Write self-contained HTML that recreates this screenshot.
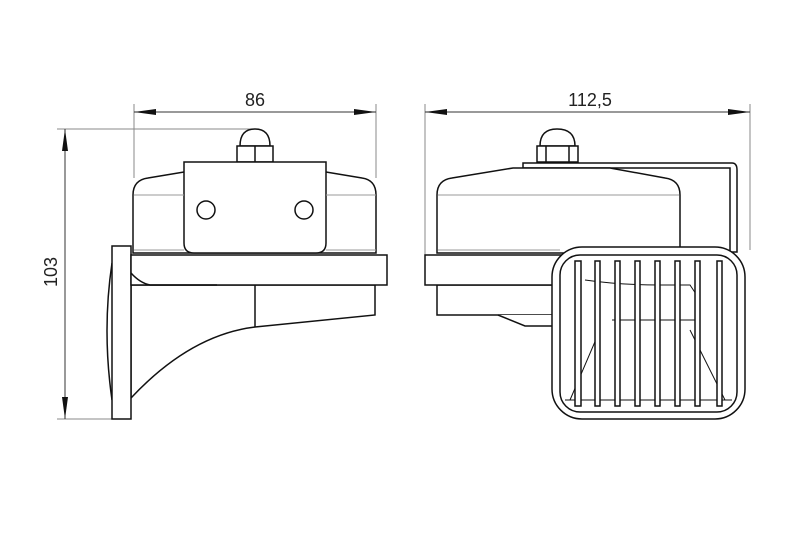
<!DOCTYPE html>
<html><head><style>body{margin:0;background:#fff}svg{display:block}</style></head><body>
<svg width="800" height="534" viewBox="0 0 800 534" xmlns="http://www.w3.org/2000/svg" font-family="Liberation Sans, sans-serif">
<g stroke="#888" stroke-width="1" fill="none">
<line x1="134" y1="104" x2="134" y2="178"/>
<line x1="376" y1="104" x2="376" y2="178"/>
<line x1="425" y1="104" x2="425" y2="255"/>
<line x1="750" y1="104" x2="750" y2="250"/>
<line x1="57" y1="129" x2="255" y2="129"/>
<line x1="57" y1="419" x2="112" y2="419"/>
</g>
<g stroke="#333" stroke-width="1" fill="none">
<line x1="134" y1="112" x2="376" y2="112"/>
<line x1="425" y1="112" x2="750" y2="112"/>
<line x1="65" y1="129" x2="65" y2="419"/>
</g>
<g fill="#111">
<polygon points="134,112 156,109 156,115"/>
<polygon points="376,112 354,109 354,115"/>
<polygon points="425,112 447,109 447,115"/>
<polygon points="750,112 728,109 728,115"/>
<polygon points="65,129 62,151 68,151"/>
<polygon points="65,419 62,397 68,397"/>
</g>
<text x="255" y="106" font-size="18" text-anchor="middle" fill="#222">86</text>
<text x="590" y="106" font-size="18" text-anchor="middle" fill="#222">112,5</text>
<text transform="translate(57,272) rotate(-90)" font-size="18" text-anchor="middle" fill="#222">103</text>

<g stroke="#111" stroke-width="1.5" fill="#fff">
<!-- left horn -->
<path d="M133 253 L133 195 Q133 180 148 178 L184 172 L326 172 L362 178 Q376 180 376 195 L376 253 Z"/>
<path d="M240 146 Q240 129 255 129 Q270 129 270 146 Z"/>
<rect x="237" y="146" width="36" height="16"/>
<line x1="255" y1="146" x2="255" y2="162"/>
<path d="M184 162 L326 162 L326 243 Q326 253 316 253 L194 253 Q184 253 184 243 Z"/>
<circle cx="206" cy="210" r="9"/>
<circle cx="304" cy="210" r="9"/>
<path d="M131 285 L131 398 Q190 335 255 327 L375 315 L375 285 Z"/>
<line x1="255" y1="285" x2="255" y2="327"/>
<path d="M112 263 Q102 330 112 400" fill="none"/>
<rect x="112" y="246" width="19" height="173"/>
<rect x="131" y="255" width="256" height="30"/>
<path d="M131 273 Q140 283 150 285 L217 285" fill="none"/>
<!-- right horn -->
<path d="M523 168 L523 163 L732 163 Q737 163 737 170 L737 252 L730 252 L730 168 Z"/>
<path d="M437 253 L437 195 Q437 180 452 178 L513 168 L610 168 L665 178 Q680 180 680 195 L680 253 Z"/>
<path d="M540 146 Q540 129 557 129 Q575 129 575 146 Z"/>
<rect x="537" y="146" width="41" height="16"/>
<line x1="546" y1="146" x2="546" y2="162"/><line x1="569" y1="146" x2="569" y2="162"/>
<rect x="437" y="285" width="120" height="30"/>
<rect x="425" y="255" width="140" height="30"/>
<path d="M498 315 L525 326 L557 326 L557 315" />
<rect x="552" y="247" width="193" height="172" rx="30"/>
<rect x="560" y="255" width="177" height="157" rx="20"/>
<path d="M585 280 Q620 285 660 285 L690 285 L700 300 L700 320 L612 320" fill="none" stroke-width="1"/>
<path d="M600 330 L570 400 M690 330 L725 400" fill="none" stroke-width="1"/>
<line x1="565" y1="400" x2="732" y2="400" stroke-width="1"/>
</g>
<g stroke="#999" stroke-width="1">
<line x1="134" y1="195" x2="184" y2="195"/><line x1="326" y1="195" x2="376" y2="195"/>
<line x1="438" y1="195" x2="679" y2="195"/>
<line x1="134" y1="250" x2="184" y2="250"/><line x1="326" y1="250" x2="376" y2="250"/>
<line x1="438" y1="250" x2="560" y2="250"/>
</g>
<g stroke="#111" stroke-width="1.5" fill="#fff">
<rect x="575" y="261" width="6" height="145"/>
<rect x="595" y="261" width="5" height="145"/>
<rect x="615" y="261" width="5" height="145"/>
<rect x="635" y="261" width="5" height="145"/>
<rect x="655" y="261" width="5" height="145"/>
<rect x="675" y="261" width="5" height="145"/>
<rect x="695" y="261" width="5" height="145"/>
<rect x="717" y="261" width="5" height="145"/>
</g>
</svg>
</body></html>
